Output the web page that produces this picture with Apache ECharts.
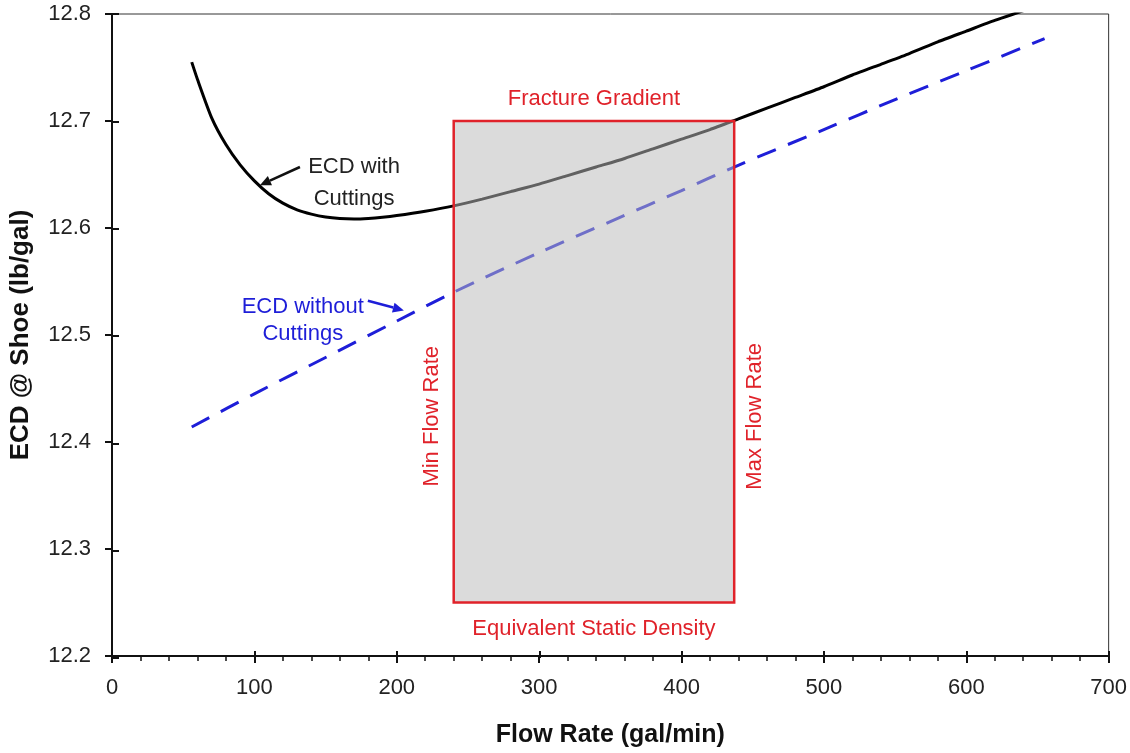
<!DOCTYPE html>
<html>
<head>
<meta charset="utf-8">
<title>ECD vs Flow Rate</title>
<script src="https://cdn.jsdelivr.net/npm/echarts@6/dist/echarts.min.js"></script>
<style>
  html, body { margin: 0; padding: 0; background: #fff; }
  #chart { width: 1130px; height: 753px; }
</style>
</head>
<body>
<div id="chart"></div>
<script>
// values: flow rate (gal/min) -> ECD at shoe (lb/gal)
var cutFlow = [56, 60, 70, 80, 90, 100, 110, 120, 130, 140, 150, 160, 170, 180, 190, 200,
    220, 240, 260, 280, 300, 320, 340, 360, 380, 400, 420, 440, 460, 480, 500, 520, 540, 560, 580, 600, 620, 640];
var cutEcd = [12.755, 12.739, 12.703, 12.678, 12.659, 12.644, 12.632, 12.6232, 12.617, 12.613, 12.6102, 12.6088, 12.6084, 12.6089, 12.6100, 12.6116,
    12.6157, 12.6207, 12.627, 12.634, 12.641, 12.649, 12.657, 12.665, 12.674, 12.683, 12.692, 12.702, 12.712, 12.722, 12.732, 12.743, 12.753, 12.763, 12.774, 12.784, 12.794, 12.803];
var cleanFlow = [56, 100, 150, 200, 240, 300, 350, 400, 437, 500, 550, 600, 655];
var cleanEcd = [12.414, 12.445, 12.479, 12.513, 12.540, 12.577, 12.606, 12.635, 12.657, 12.692, 12.720, 12.747, 12.777];
// operating window: min/max flow rate, static density / fracture gradient
var windowFlow = [240, 437];
var windowEcd = [12.25, 12.70];
// axis ranges: [min, max, interval]
var xTicks = [0, 700, 100];
var yTicks = [12.2, 12.8, 0.1];

var FONT = '"Liberation Sans", Arial, sans-serif';
var RED = '#e0222a';
var BLUE = '#1e1ed8';

function zip(xs, ys) {
    return xs.map(function (x, i) { return [x, ys[i]]; });
}

var chart = echarts.init(document.getElementById('chart'));

var gridBox = { left: 112, right: 21, top: 14, bottom: 95 };

var option = {
    animation: false,
    backgroundColor: '#fff',
    grid: [
        Object.assign({ show: true, borderColor: '#333', borderWidth: 1 }, gridBox),
        Object.assign({ show: false }, gridBox)
    ],
    xAxis: [{
        type: 'value',
        min: xTicks[0], max: xTicks[1], interval: xTicks[2],
        axisLine: { lineStyle: { color: '#111', width: 2 } },
        axisTick: { length: 7, lineStyle: { color: '#111', width: 2 } },
        minorTick: { show: true, splitNumber: 5, length: 5, lineStyle: { color: '#111', width: 1.5 } },
        splitLine: { show: false },
        axisLabel: { fontSize: 22, color: '#222', margin: 21, fontFamily: FONT },
        name: 'Flow Rate (gal/min)',
        nameLocation: 'middle',
        nameGap: 67,
        nameTextStyle: { fontSize: 25, fontWeight: 'bold', color: '#111', fontFamily: FONT }
    }, {
        // second copy only for the inward half of the major ticks
        type: 'value', gridIndex: 1,
        min: xTicks[0], max: xTicks[1], interval: xTicks[2],
        axisLine: { show: false },
        axisTick: { inside: true, length: 7, lineStyle: { color: '#111', width: 2 } },
        axisLabel: { show: false },
        splitLine: { show: false }
    }],
    yAxis: [{
        type: 'value',
        min: yTicks[0], max: yTicks[1], interval: yTicks[2],
        axisLine: { show: true, lineStyle: { color: '#111', width: 2 } },
        axisTick: { show: true, length: 7, lineStyle: { color: '#111', width: 2 } },
        splitLine: { show: false },
        axisLabel: {
            fontSize: 22, color: '#222', margin: 21, fontFamily: FONT,
            formatter: function (v) { return v.toFixed(1); }
        },
        name: 'ECD @ Shoe (lb/gal)',
        nameLocation: 'middle',
        nameRotate: 90,
        nameGap: 78,
        nameTextStyle: { fontSize: 26, fontWeight: 'bold', color: '#111', fontFamily: FONT }
    }, {
        type: 'value', gridIndex: 1,
        min: yTicks[0], max: yTicks[1], interval: yTicks[2],
        axisLine: { show: false },
        axisTick: { show: true, inside: true, length: 7, lineStyle: { color: '#111', width: 2 } },
        axisLabel: { show: false },
        splitLine: { show: false }
    }],
    series: [{
        name: 'ECD with Cuttings',
        type: 'line',
        data: zip(cutFlow, cutEcd),
        showSymbol: false,
        smooth: 0.2,
        lineStyle: { color: '#000', width: 3 },
        z: 2
    }, {
        name: 'ECD without Cuttings',
        type: 'line',
        data: zip(cleanFlow, cleanEcd),
        showSymbol: false,
        smooth: 0.3,
        lineStyle: { color: BLUE, width: 3, type: [20, 13] },
        z: 2
    }, {
        // shaded operating window, drawn over the curves
        name: 'window',
        type: 'custom',
        z: 5,
        data: [[windowFlow[0], windowFlow[1], windowEcd[0], windowEcd[1]]],
        encode: { x: [0, 1], y: [2, 3] },
        renderItem: function (params, api) {
            var p0 = api.coord([api.value(0), api.value(3)]);
            var p1 = api.coord([api.value(1), api.value(2)]);
            return {
                type: 'rect',
                shape: { x: p0[0], y: p0[1], width: p1[0] - p0[0], height: p1[1] - p0[1] },
                style: { fill: 'rgba(186,186,186,0.52)', stroke: RED, lineWidth: 2.5 }
            };
        }
    }]
};

chart.setOption(option);

// annotations, anchored in data coordinates
function px(x, y) {
    return chart.convertToPixel({ gridIndex: 0 }, [x, y]);
}

function label(text, at, color, extra) {
    var p = px(at[0], at[1]);
    return {
        type: 'text',
        x: p[0], y: p[1],
        style: Object.assign({
            text: text, fill: color, font: '22px ' + FONT,
            align: 'center', verticalAlign: 'middle'
        }, extra || {})
    };
}

function arrow(from, to, color) {
    var a = px(from[0], from[1]), b = px(to[0], to[1]);
    var dx = b[0] - a[0], dy = b[1] - a[1];
    var len = Math.sqrt(dx * dx + dy * dy);
    var ux = dx / len, uy = dy / len;
    var hl = 11, hw = 5;
    var base = [b[0] - ux * hl, b[1] - uy * hl];
    return [{
        type: 'line',
        shape: { x1: a[0], y1: a[1], x2: base[0], y2: base[1] },
        style: { stroke: color, lineWidth: 2.5 }
    }, {
        type: 'polygon',
        shape: { points: [b, [base[0] - uy * hw, base[1] + ux * hw], [base[0] + uy * hw, base[1] - ux * hw]] },
        style: { fill: color }
    }];
}

var midFlow = (windowFlow[0] + windowFlow[1]) / 2;
var graphics = [
    label('Fracture Gradient', [midFlow, 12.721], RED),
    label('Equivalent Static Density', [midFlow, 12.225], RED),
    Object.assign(label('Min Flow Rate', [224.7, 12.424], RED), { rotation: Math.PI / 2 }),
    Object.assign(label('Max Flow Rate', [451.4, 12.424], RED), { rotation: Math.PI / 2 }),
    label('ECD with\nCuttings', [170, 12.642], '#222', { lineHeight: 32 }),
    label('ECD without\nCuttings', [134, 12.514], BLUE, { lineHeight: 27 })
];
graphics = graphics
    .concat(arrow([132, 12.657], [103.9, 12.640], '#111'))
    .concat(arrow([179.7, 12.532], [205, 12.523], BLUE));

chart.setOption({ graphic: { elements: graphics } });
</script>
</body>
</html>
